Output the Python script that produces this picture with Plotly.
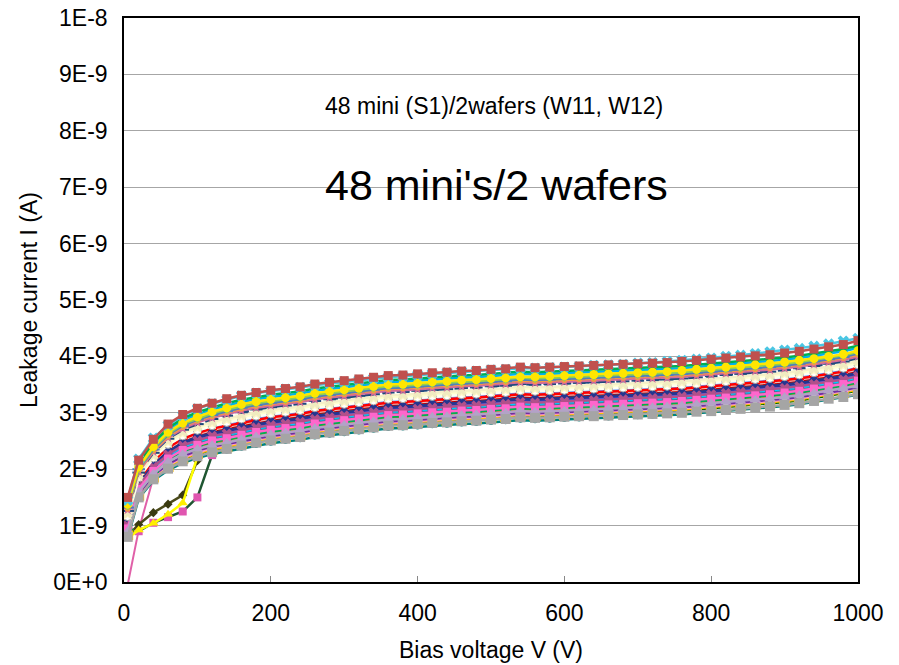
import plotly.graph_objects as go

# Bias voltage sweep (V)
V = [5, 20, 40, 60, 80, 100, 120, 140, 160, 180, 200, 220, 240, 260, 280, 300, 320, 340, 360, 380,
     400, 420, 440, 460, 480, 500, 520, 540, 560, 580, 600, 620, 640, 660, 680, 700, 720, 740, 760, 780,
     800, 820, 840, 860, 880, 900, 920, 940, 960, 980, 1000]

# Leakage current in nA (1E-9 A) for each mini sensor
s01 = [1.50,2.16,2.53,2.80,2.97, 3.08,3.17,3.25,3.31,3.36, 3.40,3.43,3.46,3.51,3.54, 3.57,3.60,3.63,3.66,3.67, 3.69,3.71,3.72,3.74,3.75, 3.77,3.78,3.81,3.80,3.81, 3.82,3.83,3.84,3.85,3.86, 3.87,3.88,3.89,3.91,3.93, 3.95,3.97,3.99,4.01,4.03, 4.06,4.09,4.13,4.17,4.21, 4.28]
s02 = [1.45,2.18,2.55,2.78,2.95, 3.07,3.16,3.23,3.30,3.35, 3.38,3.42,3.45,3.49,3.52, 3.55,3.58,3.61,3.63,3.65, 3.67,3.69,3.71,3.73,3.74, 3.76,3.77,3.79,3.79,3.80, 3.81,3.82,3.84,3.85,3.86, 3.88,3.89,3.91,3.93,3.95, 3.97,4.00,4.02,4.05,4.08, 4.11,4.14,4.18,4.22,4.27, 4.32]
s03 = [1.44,2.10,2.47,2.73,2.90, 3.01,3.09,3.17,3.23,3.28, 3.32,3.35,3.38,3.43,3.46, 3.49,3.52,3.55,3.58,3.59, 3.61,3.63,3.64,3.66,3.67, 3.69,3.70,3.73,3.72,3.73, 3.74,3.75,3.76,3.77,3.78, 3.79,3.80,3.81,3.83,3.85, 3.87,3.89,3.91,3.93,3.95, 3.98,4.01,4.05,4.09,4.13, 4.19]
s04 = [1.38,2.04,2.40,2.66,2.82, 2.93,3.02,3.09,3.15,3.20, 3.24,3.27,3.30,3.35,3.38, 3.41,3.44,3.47,3.50,3.51, 3.53,3.55,3.56,3.58,3.59, 3.61,3.62,3.64,3.64,3.65, 3.66,3.67,3.68,3.69,3.70, 3.71,3.72,3.73,3.75,3.77, 3.79,3.81,3.83,3.85,3.87, 3.90,3.93,3.96,4.00,4.04, 4.10]
s05 = [1.40,2.08,2.44,2.70,2.86, 2.97,3.06,3.13,3.19,3.24, 3.28,3.31,3.34,3.39,3.42, 3.45,3.48,3.51,3.54,3.55, 3.57,3.59,3.60,3.62,3.63, 3.65,3.66,3.69,3.68,3.69, 3.70,3.71,3.72,3.73,3.74, 3.75,3.76,3.77,3.79,3.81, 3.83,3.85,3.87,3.89,3.91, 3.94,3.97,4.01,4.05,4.09, 4.15]
s06 = [1.32,2.00,2.35,2.61,2.77, 2.88,2.96,3.03,3.09,3.14, 3.18,3.21,3.24,3.29,3.32, 3.35,3.38,3.41,3.44,3.45, 3.47,3.49,3.50,3.52,3.53, 3.55,3.56,3.59,3.58,3.59, 3.60,3.61,3.62,3.63,3.64, 3.65,3.66,3.67,3.69,3.71, 3.73,3.75,3.77,3.79,3.81, 3.84,3.87,3.91,3.95,3.99, 4.05]
s07 = [1.35,2.02,2.38,2.63,2.80, 2.90,2.99,3.06,3.12,3.17, 3.21,3.24,3.27,3.32,3.35, 3.38,3.41,3.44,3.47,3.48, 3.50,3.52,3.53,3.55,3.56, 3.58,3.59,3.62,3.61,3.62, 3.63,3.64,3.65,3.66,3.67, 3.68,3.69,3.70,3.72,3.74, 3.76,3.78,3.80,3.82,3.84, 3.87,3.90,3.94,3.98,4.02, 4.08]
s08 = [1.28,1.96,2.31,2.56,2.72, 2.83,2.91,2.98,3.04,3.09, 3.13,3.16,3.19,3.24,3.27, 3.30,3.33,3.36,3.39,3.40, 3.42,3.44,3.45,3.47,3.48, 3.50,3.51,3.54,3.53,3.54, 3.55,3.56,3.57,3.58,3.59, 3.60,3.61,3.62,3.64,3.66, 3.68,3.70,3.72,3.74,3.76, 3.79,3.82,3.86,3.90,3.94, 4.00]
s09 = [1.30,1.98,2.33,2.58,2.75, 2.86,2.94,3.01,3.07,3.12, 3.16,3.19,3.22,3.27,3.30, 3.33,3.36,3.39,3.42,3.43, 3.45,3.47,3.48,3.50,3.51, 3.53,3.54,3.57,3.56,3.57, 3.58,3.59,3.60,3.61,3.62, 3.63,3.64,3.65,3.67,3.69, 3.71,3.73,3.75,3.77,3.79, 3.82,3.85,3.89,3.93,3.97, 4.03]
s10 = [1.26,1.94,2.29,2.54,2.70, 2.80,2.89,2.95,3.01,3.06, 3.10,3.13,3.16,3.21,3.24, 3.27,3.30,3.33,3.36,3.37, 3.39,3.41,3.42,3.44,3.45, 3.47,3.48,3.51,3.50,3.51, 3.52,3.53,3.54,3.55,3.56, 3.57,3.58,3.59,3.61,3.63, 3.65,3.67,3.69,3.71,3.73, 3.76,3.79,3.83,3.87,3.91, 3.97]
s11 = [1.20,1.88,2.23,2.47,2.63, 2.73,2.81,2.87,2.93,2.98, 3.02,3.05,3.08,3.13,3.16, 3.19,3.22,3.25,3.28,3.29, 3.31,3.33,3.34,3.36,3.37, 3.39,3.40,3.43,3.42,3.43, 3.44,3.45,3.46,3.47,3.48, 3.49,3.50,3.51,3.53,3.55, 3.57,3.59,3.61,3.63,3.65, 3.68,3.71,3.75,3.79,3.83, 3.89]
s12 = [1.16,1.85,2.20,2.44,2.59, 2.69,2.77,2.83,2.89,2.94, 2.98,3.01,3.04,3.09,3.12, 3.15,3.18,3.21,3.24,3.25, 3.27,3.29,3.30,3.32,3.33, 3.35,3.36,3.39,3.38,3.39, 3.40,3.41,3.42,3.43,3.44, 3.45,3.46,3.47,3.49,3.51, 3.53,3.55,3.57,3.59,3.61, 3.64,3.67,3.71,3.75,3.79, 3.85]
s13 = [1.22,1.90,2.25,2.50,2.66, 2.76,2.84,2.90,2.96,3.01, 3.05,3.08,3.11,3.16,3.19, 3.22,3.25,3.28,3.31,3.32, 3.34,3.36,3.37,3.39,3.40, 3.42,3.43,3.46,3.45,3.46, 3.47,3.48,3.49,3.50,3.51, 3.52,3.53,3.54,3.56,3.58, 3.60,3.62,3.64,3.66,3.68, 3.71,3.74,3.78,3.82,3.86, 3.92]
s14 = [1.12,1.80,2.15,2.38,2.54, 2.64,2.72,2.77,2.83,2.88, 2.92,2.95,2.98,3.03,3.06, 3.09,3.12,3.15,3.18,3.19, 3.21,3.23,3.24,3.26,3.27, 3.29,3.30,3.33,3.32,3.33, 3.34,3.35,3.36,3.37,3.38, 3.39,3.40,3.41,3.43,3.45, 3.47,3.49,3.51,3.53,3.55, 3.58,3.61,3.65,3.69,3.73, 3.79]
s15 = [1.05,1.74,2.08,2.31,2.47, 2.57,2.64,2.69,2.75,2.80, 2.84,2.87,2.90,2.95,2.98, 3.01,3.04,3.07,3.10,3.11, 3.13,3.15,3.16,3.18,3.19, 3.21,3.22,3.25,3.24,3.25, 3.26,3.27,3.28,3.29,3.30, 3.31,3.32,3.33,3.35,3.37, 3.39,3.41,3.43,3.45,3.47, 3.50,3.53,3.57,3.61,3.65, 3.71]
s16 = [1.08,1.77,2.11,2.34,2.50, 2.60,2.68,2.73,2.79,2.84, 2.88,2.91,2.94,2.99,3.02, 3.05,3.08,3.11,3.14,3.15, 3.17,3.19,3.20,3.22,3.23, 3.25,3.26,3.29,3.28,3.29, 3.30,3.31,3.32,3.33,3.34, 3.35,3.36,3.37,3.39,3.41, 3.43,3.45,3.47,3.49,3.51, 3.54,3.57,3.61,3.65,3.69, 3.75]
s17 = [1.00,1.70,2.04,2.26,2.42, 2.51,2.59,2.63,2.69,2.74, 2.78,2.81,2.84,2.89,2.92, 2.95,2.98,3.01,3.04,3.05, 3.07,3.09,3.10,3.12,3.13, 3.15,3.16,3.19,3.18,3.19, 3.20,3.21,3.22,3.23,3.24, 3.25,3.26,3.27,3.29,3.31, 3.33,3.35,3.37,3.39,3.41, 3.44,3.47,3.51,3.55,3.59, 3.65]
s18 = [1.03,1.72,2.06,2.28,2.44, 2.54,2.61,2.66,2.72,2.77, 2.81,2.84,2.87,2.92,2.95, 2.98,3.01,3.04,3.07,3.08, 3.10,3.12,3.13,3.15,3.16, 3.18,3.19,3.22,3.21,3.22, 3.23,3.24,3.25,3.26,3.27, 3.28,3.29,3.30,3.32,3.34, 3.36,3.38,3.40,3.42,3.44, 3.47,3.50,3.54,3.58,3.62, 3.68]
s19 = [0.98,1.68,2.01,2.23,2.38, 2.47,2.55,2.59,2.65,2.70, 2.74,2.77,2.80,2.85,2.88, 2.91,2.94,2.97,3.00,3.01, 3.03,3.05,3.06,3.08,3.09, 3.11,3.12,3.15,3.14,3.15, 3.16,3.17,3.18,3.19,3.20, 3.21,3.22,3.23,3.25,3.27, 3.29,3.31,3.33,3.35,3.37, 3.40,3.43,3.47,3.51,3.55, 3.61]
s20 = [0.95,1.65,1.97,2.19,2.34, 2.43,2.51,2.55,2.61,2.66, 2.70,2.73,2.76,2.81,2.84, 2.87,2.90,2.93,2.96,2.97, 2.99,3.01,3.02,3.04,3.05, 3.07,3.08,3.11,3.10,3.11, 3.12,3.13,3.14,3.15,3.16, 3.17,3.18,3.19,3.21,3.23, 3.25,3.27,3.29,3.31,3.33, 3.36,3.39,3.43,3.47,3.51, 3.57]
s21 = [0.90,1.60,1.92,2.13,2.27, 2.36,2.43,2.47,2.53,2.58, 2.62,2.65,2.68,2.73,2.76, 2.79,2.82,2.85,2.88,2.89, 2.91,2.93,2.94,2.96,2.97, 2.99,3.00,3.03,3.02,3.03, 3.04,3.05,3.06,3.07,3.08, 3.09,3.10,3.11,3.13,3.15, 3.17,3.19,3.21,3.23,3.25, 3.28,3.31,3.35,3.39,3.43, 3.48]
s22 = [0.93,1.63,1.95,2.17,2.31, 2.41,2.48,2.53,2.58,2.63, 2.67,2.70,2.73,2.78,2.81, 2.84,2.87,2.90,2.93,2.94, 2.96,2.98,2.99,3.01,3.02, 3.04,3.05,3.08,3.07,3.08, 3.09,3.10,3.11,3.12,3.13, 3.14,3.15,3.16,3.18,3.20, 3.22,3.24,3.26,3.28,3.30, 3.33,3.36,3.40,3.44,3.48, 3.54]
s23 = [0.97,1.66,1.99,2.21,2.36, 2.45,2.53,2.57,2.63,2.68, 2.72,2.75,2.78,2.83,2.86, 2.89,2.92,2.95,2.98,2.99, 3.01,3.03,3.04,3.06,3.07, 3.09,3.10,3.13,3.12,3.13, 3.14,3.15,3.16,3.17,3.18, 3.19,3.20,3.21,3.23,3.25, 3.27,3.29,3.31,3.33,3.35, 3.38,3.41,3.45,3.49,3.53, 3.59]
s24 = [0.80,1.50,1.82,2.01,2.14, 2.23,2.30,2.36,2.42,2.47, 2.51,2.54,2.57,2.62,2.65, 2.68,2.71,2.74,2.77,2.78, 2.80,2.82,2.83,2.85,2.86, 2.88,2.89,2.92,2.91,2.92, 2.93,2.94,2.94,2.95,2.96, 2.97,2.98,2.99,3.00,3.02, 3.03,3.05,3.07,3.09,3.11, 3.14,3.17,3.21,3.25,3.28, 3.33]
s25 = [0.78,1.48,1.80,1.98,2.11, 2.20,2.27,2.32,2.37,2.42, 2.46,2.49,2.52,2.57,2.60, 2.63,2.66,2.69,2.72,2.73, 2.75,2.77,2.78,2.80,2.81, 2.83,2.84,2.87,2.86,2.87, 2.88,2.89,2.90,2.91,2.92, 2.93,2.94,2.95,2.97,2.99, 3.01,3.03,3.05,3.07,3.09, 3.12,3.15,3.19,3.23,3.27, 3.32]
s26 = [0.84,1.54,1.86,2.05,2.19, 2.28,2.35,2.40,2.46,2.51, 2.55,2.58,2.61,2.66,2.69, 2.72,2.75,2.78,2.81,2.82, 2.84,2.86,2.87,2.89,2.90, 2.92,2.93,2.96,2.95,2.96, 2.97,2.98,2.99,3.00,3.01, 3.02,3.03,3.04,3.06,3.08, 3.10,3.12,3.14,3.16,3.18, 3.21,3.24,3.28,3.32,3.36, 3.41]
s27 = [0.87,1.57,1.89,2.09,2.23, 2.33,2.40,2.45,2.50,2.55, 2.59,2.62,2.65,2.70,2.73, 2.76,2.79,2.82,2.85,2.86, 2.88,2.90,2.91,2.93,2.94, 2.96,2.97,3.00,2.99,3.00, 3.01,3.02,3.03,3.04,3.05, 3.06,3.07,3.08,3.10,3.12, 3.14,3.16,3.18,3.20,3.22, 3.25,3.28,3.32,3.36,3.40, 3.46]
s28 = [0.91,1.62,1.94,2.15,2.29, 2.38,2.46,2.50,2.55,2.60, 2.64,2.67,2.70,2.75,2.78, 2.81,2.84,2.87,2.90,2.91, 2.93,2.95,2.96,2.98,2.99, 3.01,3.02,3.05,3.04,3.05, 3.06,3.07,3.08,3.09,3.10, 3.11,3.12,3.13,3.15,3.17, 3.19,3.21,3.23,3.25,3.27, 3.30,3.33,3.37,3.41,3.45, 3.51]
s29 = [0.86,1.56,1.88,2.07,2.21, 2.30,2.38,2.43,2.48,2.53, 2.57,2.60,2.63,2.68,2.71, 2.74,2.77,2.80,2.83,2.84, 2.86,2.88,2.89,2.91,2.92, 2.94,2.95,2.98,2.97,2.98, 2.99,3.00,3.01,3.02,3.03, 3.04,3.05,3.06,3.08,3.10, 3.12,3.14,3.16,3.18,3.20, 3.23,3.26,3.30,3.34,3.38, 3.44]
s30 = [1.00,1.69,2.02,2.24,2.40, 2.49,2.57,2.61,2.67,2.72, 2.76,2.79,2.82,2.87,2.90, 2.93,2.96,2.99,3.02,3.03, 3.05,3.07,3.08,3.10,3.11, 3.13,3.14,3.17,3.16,3.17, 3.18,3.19,3.20,3.21,3.22, 3.23,3.24,3.25,3.27,3.29, 3.31,3.33,3.35,3.37,3.39, 3.42,3.45,3.49,3.53,3.57, 3.63]
s31 = [1.07,1.76,2.10,2.32,2.48, 2.58,2.66,2.71,2.77,2.82, 2.86,2.89,2.92,2.97,3.00, 3.03,3.06,3.09,3.12,3.13, 3.15,3.17,3.18,3.20,3.21, 3.23,3.24,3.27,3.26,3.27, 3.28,3.29,3.30,3.31,3.32, 3.33,3.34,3.35,3.37,3.39, 3.41,3.43,3.45,3.47,3.49, 3.52,3.55,3.59,3.63,3.67, 3.73]
s32 = [0.94,1.64,1.96,2.18,2.33, 2.42,2.49,2.54,2.60,2.64, 2.68,2.71,2.74,2.79,2.82, 2.85,2.88,2.91,2.94,2.95, 2.97,2.99,3.00,3.02,3.03, 3.05,3.06,3.09,3.08,3.09, 3.10,3.11,3.12,3.13,3.14, 3.15,3.16,3.17,3.19,3.21, 3.23,3.25,3.27,3.29,3.31, 3.34,3.37,3.41,3.45,3.49, 3.55]
s33 = [1.02,1.71,2.05,2.27,2.43, 2.53,2.60,2.65,2.71,2.76, 2.80,2.83,2.86,2.91,2.94, 2.97,3.00,3.03,3.06,3.07, 3.09,3.11,3.12,3.14,3.15, 3.17,3.18,3.21,3.20,3.21, 3.22,3.23,3.24,3.25,3.26, 3.27,3.28,3.29,3.31,3.33, 3.35,3.37,3.39,3.41,3.43, 3.46,3.49,3.53,3.57,3.61, 3.67]
s34 = [1.13,1.82,2.16,2.40,2.56, 2.66,2.74,2.79,2.85,2.90, 2.94,2.97,3.00,3.05,3.08, 3.11,3.14,3.17,3.20,3.21, 3.23,3.25,3.26,3.28,3.29, 3.31,3.32,3.35,3.34,3.35, 3.36,3.37,3.38,3.39,3.40, 3.41,3.42,3.43,3.45,3.47, 3.49,3.51,3.53,3.55,3.57, 3.60,3.63,3.67,3.71,3.75, 3.81]
s35 = [0.83,1.53,1.85,2.04,2.18, 2.27,2.34,2.39,2.44,2.49, 2.53,2.56,2.59,2.64,2.67, 2.70,2.73,2.76,2.79,2.80, 2.82,2.84,2.85,2.87,2.88, 2.90,2.91,2.94,2.93,2.94, 2.95,2.96,2.97,2.98,2.99, 3.00,3.01,3.02,3.04,3.06, 3.08,3.10,3.12,3.14,3.16, 3.19,3.22,3.26,3.30,3.34, 3.39]
s36 = [0.90,1.61,1.92,2.13,2.28, 2.37,2.44,2.49,2.55,2.59, 2.63,2.66,2.70,2.74,2.77, 2.80,2.83,2.86,2.89,2.90, 2.92,2.94,2.95,2.97,2.98, 3.00,3.01,3.04,3.03,3.04, 3.05,3.06,3.07,3.08,3.09, 3.10,3.11,3.12,3.14,3.16, 3.18,3.20,3.22,3.24,3.26, 3.29,3.32,3.36,3.40,3.44, 3.50]
s37 = [1.10,1.79,2.13,2.36,2.52, 2.62,2.70,2.75,2.81,2.86, 2.90,2.93,2.96,3.01,3.04, 3.07,3.10,3.13,3.16,3.17, 3.19,3.21,3.22,3.24,3.25, 3.27,3.28,3.31,3.30,3.31, 3.32,3.33,3.34,3.35,3.36, 3.37,3.38,3.39,3.41,3.43, 3.45,3.47,3.49,3.51,3.53, 3.56,3.59,3.63,3.67,3.71, 3.77]
s38 = [1.04,1.73,2.07,2.30,2.46, 2.56,2.63,2.68,2.74,2.79, 2.83,2.86,2.89,2.94,2.97, 3.00,3.03,3.06,3.09,3.10, 3.12,3.14,3.15,3.17,3.18, 3.20,3.21,3.24,3.23,3.24, 3.25,3.26,3.27,3.28,3.29, 3.30,3.31,3.32,3.34,3.36, 3.38,3.40,3.42,3.44,3.46, 3.49,3.52,3.56,3.60,3.64, 3.70]
s39 = [0.92,1.63,1.95,2.16,2.31, 2.40,2.47,2.52,2.58,2.62, 2.66,2.69,2.72,2.77,2.80, 2.83,2.86,2.89,2.92,2.93, 2.95,2.97,2.98,3.00,3.01, 3.03,3.04,3.07,3.06,3.07, 3.08,3.09,3.10,3.11,3.12, 3.13,3.14,3.15,3.17,3.19, 3.21,3.23,3.25,3.27,3.29, 3.32,3.35,3.39,3.43,3.47, 3.53]
# sensors with a late turn-on at low bias
a01 = [0.85,0.90,1.05,1.15,1.25, 1.50,2.25,2.42,2.50,2.56, 2.61,2.64,2.67,2.72,2.75, 2.78,2.81,2.84,2.87,2.88, 2.90,2.92,2.93,2.95,2.96, 2.98,2.99,3.02,3.01,3.02, 3.03,3.04,3.05,3.06,3.07, 3.08,3.09,3.10,3.12,3.14, 3.16,3.18,3.20,3.22,3.24, 3.27,3.30,3.34,3.38,3.42, 3.47]
a02 = [0.82,1.02,1.23,1.38,1.54, 2.15,2.50,2.65,2.74,2.80, 2.85,2.88,2.91,2.96,2.99, 3.02,3.05,3.08,3.11,3.12, 3.14,3.16,3.17,3.19,3.20, 3.22,3.23,3.26,3.25,3.26, 3.27,3.28,3.29,3.30,3.31, 3.32,3.33,3.34,3.36,3.38, 3.40,3.42,3.44,3.46,3.48, 3.51,3.54,3.58,3.62,3.66, 3.72]
a03 = [0.78,0.92,1.04,1.20,1.40, 2.22,2.45,2.58,2.65,2.71, 2.75,2.78,2.81,2.86,2.89, 2.92,2.95,2.98,3.01,3.02, 3.04,3.06,3.07,3.09,3.10, 3.12,3.13,3.16,3.15,3.16, 3.17,3.18,3.19,3.20,3.21, 3.22,3.23,3.24,3.26,3.28, 3.30,3.32,3.34,3.36,3.38, 3.41,3.44,3.48,3.52,3.56, 3.62]
a04 = [-0.05,0.92,1.85,2.10,2.25, 2.35,2.46,2.51,2.57,2.62, 2.66,2.69,2.72,2.76,2.79, 2.82,2.85,2.88,2.91,2.92, 2.94,2.96,2.97,2.99,3.00, 3.02,3.03,3.06,3.05,3.06, 3.07,3.08,3.09,3.10,3.11, 3.12,3.13,3.14,3.16,3.18, 3.20,3.22,3.24,3.26,3.28, 3.31,3.34,3.38,3.42,3.46, 3.52]

y_tickvals = [0, 1, 2, 3, 4, 5, 6, 7, 8, 9, 10]
y_ticktext = ["0E+0", "1E-9", "2E-9", "3E-9", "4E-9", "5E-9", "6E-9", "7E-9", "8E-9", "9E-9", "1E-8"]
x_tickvals = [0, 200, 400, 600, 800, 1000]

# drawing order (first drawn = bottom) with styles: (data, line colour, marker colour, symbol, marker size, line width)
series = [
    (a04, "#E060A8", "#E060A8", "square", 5, 2),
    (a01, "#1E5631", "#E055B0", "square", 8, 2.5),
    (a02, "#4A4A1A", "#3A3A10", "diamond", 7, 2.5),
    (a03, "#FFFF00", "#FFEE00", "triangle-up", 9, 2.5),
    (s25, "#008080", "#008080", "circle", 5, 2.5),
    (s35, "#006600", "#006600", "square", 6, 2.5),
    (s26, "#FFC000", "#FFC000", "square-open", 9, 2.5),
    (s29, "#FF99CC", "#FF99CC", "diamond", 8, 2.5),
    (s27, "#7030A0", "#7030A0", "triangle-up", 6, 2.5),
    (s36, "#BFBFBF", "#BFBFBF", "circle", 8, 2.5),
    (s28, "#99CC00", "#99CC00", "circle", 6, 2.5),
    (s39, "#FF6600", "#FF6600", "cross", 6, 2.5),
    (s32, "#9966CC", "#9966CC", "square", 7, 2.5),
    (s22, "#00B050", "#00B050", "line-ew-open", 8, 2.5),
    (s23, "#984807", "#984807", "diamond", 6, 2.5),
    (s19, "#31859C", "#31859C", "square", 7, 2.5),
    (s30, "#00CCFF", "#00CCFF", "x", 7, 2.5),
    (s33, "#993366", "#993366", "x", 9, 2.5),
    (s18, "#3366FF", "#3366FF", "diamond", 7, 2.5),
    (s38, "#333399", "#333399", "circle", 8, 2.5),
    (s31, "#808000", "#808000", "circle", 6, 2.5),
    (s16, "#C00000", "#C00000", "line-ew-open", 7, 2.5),
    (s37, "#E6B9B8", "#E6B9B8", "diamond", 8, 2.5),
    (s34, "#6699FF", "#6699FF", "triangle-up", 7, 2.5),
    (s14, "#FF0000", "#FF0000", "cross", 8, 2.5),
    (s15, "#24358F", "#24358F", "circle", 9, 2.5),
    (s17, "#B2508A", "#B2508A", "x", 9, 2.5),
    (s20, "#FF66CC", "#FF66CC", "square", 8, 2.5),
    (s21, "#B3A2C7", "#B3A2C7", "triangle-up", 10, 2.5),
    (s24, "#A5A5A5", "#A5A5A5", "square", 10, 2.5),
    (s12, "#FFFFF0", "#FFFFFF", "circle", 8, 3),
    (s11, "#FFFFD0", "#FFF8C8", "star", 10, 2.5),
    (s13, "#F5F0C8", "#F0EBC0", "x", 9, 2.5),
    (s10, "#1F497D", "#1F497D", "line-ew-open", 9, 2.5),
    (s08, "#D2699B", "#D2699B", "star", 8, 2.5),
    (s09, "#F79646", "#F79646", "circle", 6, 2.5),
    (s06, "#4F81BD", "#4F81BD", "line-ew-open", 9, 2.5),
    (s07, "#92D050", "#92D050", "diamond", 7, 2.5),
    (s05, "#00B0F0", "#00B0F0", "diamond", 7, 2.5),
    (s03, "#00B050", "#00B050", "triangle-up", 7, 2.5),
    (s04, "#FFE600", "#FFE600", "circle", 9, 2.5),
    (s02, "#4BC6E3", "#4BC6E3", "x", 10, 2.5),
    (s01, "#C0504D", "#C0504D", "square", 9, 2.5),
]

fig = go.Figure()
for ys, lc, mc, sym, msz, lw in series:
    xs = V[:len(ys)]
    ys = ys[:len(xs)]
    open_sym = sym.endswith("-open")
    outline = dict(color=mc, width=2 if open_sym else 0)
    if mc == "#FFFFFF":
        outline = dict(color="#A0A0A0", width=1)
    fig.add_trace(go.Scatter(
        x=xs, y=ys, mode="lines+markers",
        line=dict(color=lc, width=lw, dash="dash" if lc == "#1F497D" else "solid"),
        marker=dict(symbol=sym, size=msz, color=mc, line=outline),
        showlegend=False, hoverinfo="skip", cliponaxis=True,
    ))

# the page body adds an 8 px offset, so margins are shifted to keep the plot box in place
font = "Liberation Sans, Arial, sans-serif"
fig.update_layout(
    width=899, height=665,
    margin=dict(l=116, r=49, t=10, b=91, autoexpand=False),
    paper_bgcolor="white", plot_bgcolor="white",
    font=dict(family=font, size=23, color="black"),
    xaxis=dict(
        range=[0, 1000], tickvals=x_tickvals, ticks="inside", ticklen=6, tickcolor="#888888",
        showgrid=False, zeroline=False, showline=True, linecolor="black", linewidth=1.5, mirror=True,
        ticklabelstandoff=10, automargin=False, ticklabeloverflow="allow",
        title=dict(text="Bias voltage V (V)", standoff=17, font=dict(size=23)),
    ),
    yaxis=dict(
        range=[0, 10], tickvals=y_tickvals, ticktext=y_ticktext, ticks="",
        showgrid=True, gridcolor="#A6A6A6", gridwidth=1, zeroline=False,
        showline=True, linecolor="black", linewidth=1.5, mirror=True,
        ticklabelstandoff=10, automargin=False, ticklabeloverflow="allow",
        title=dict(text="Leakage current I (A)", standoff=9, font=dict(size=23)),
    ),
    annotations=[
        dict(text="48 mini (S1)/2wafers (W11, W12)", xref="paper", yref="paper",
             x=0.504, y=0.844, xanchor="center", yanchor="middle", showarrow=False,
             font=dict(size=23, family=font)),
        dict(text="48 mini's/2 wafers", xref="paper", yref="paper",
             x=0.508, y=0.704, xanchor="center", yanchor="middle", showarrow=False,
             font=dict(size=43, family=font)),
    ],
)

fig.write_html("out.html")
